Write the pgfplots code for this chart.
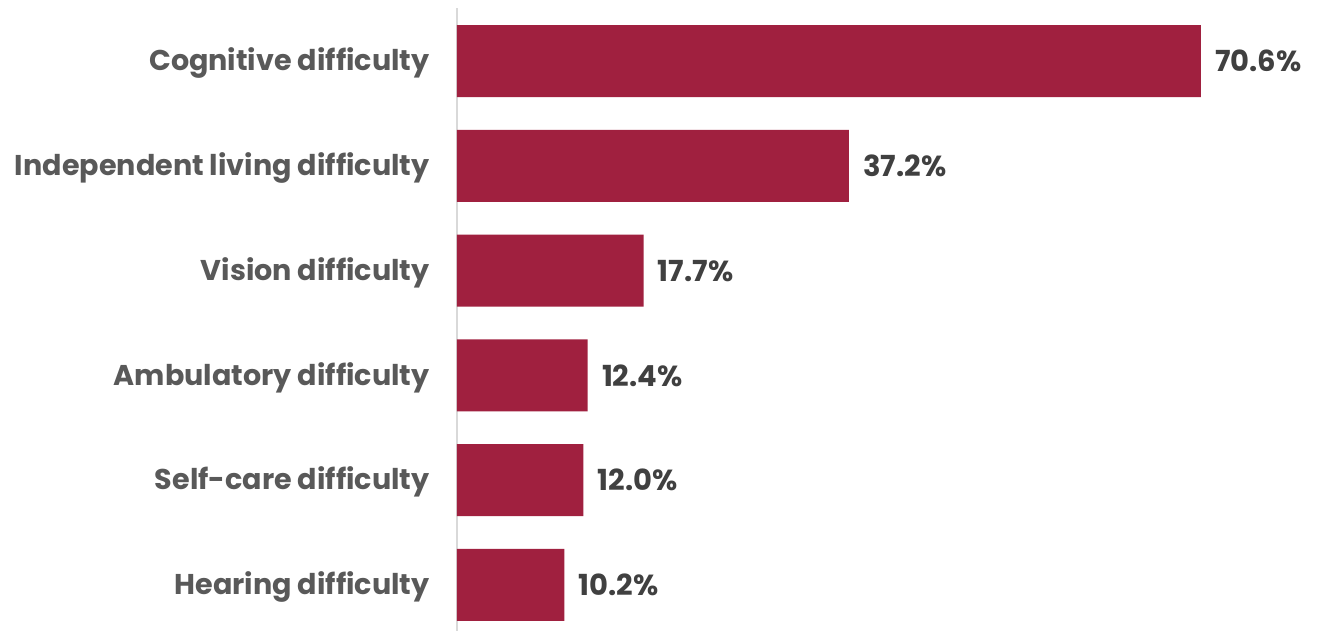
\documentclass[border=0pt]{standalone}
\usepackage{pgfplots}
\pgfplotsset{compat=1.18}
\usepackage{fontspec}
\setmainfont{Poppins}
\definecolor{barred}{HTML}{A0203F}
\definecolor{lblgray}{HTML}{595959}
\definecolor{valgray}{HTML}{404040}
\definecolor{axgray}{HTML}{D9D9D9}
\begin{document}
\begin{tikzpicture}
\path[use as bounding box] (-228.5pt,0pt) rectangle (432.5pt,315.5pt);
\begin{axis}[
  at={(0pt,0pt)}, anchor=south west,
  scale only axis, width=421.5pt, height=311.5pt,
  xbar, bar width=36pt,
  xmin=0, xmax=80,
  ymin=-0.439, ymax=5.506,
  axis x line=none,
  axis y line=left,
  axis line style={-, axgray, line width=1pt},
  ytick={0,1,2,3,4,5},
  yticklabels={Hearing difficulty, Self-care difficulty, Ambulatory difficulty, Vision difficulty, Independent living difficulty, Cognitive difficulty},
  major tick length=0pt,
  yticklabel style={font=\fontsize{14.3}{16}\selectfont\bfseries, text=lblgray, anchor=east, inner sep=0pt, xshift=-13.5pt, yshift=-1pt},
  /pgf/number format/assume math mode=true,
  nodes near coords={\pgfmathprintnumber[fixed,precision=1,zerofill,assume math mode=true]{\pgfplotspointmeta}\%},
  nodes near coords style={font=\fontsize{14.5}{16}\selectfont\bfseries, text=valgray, anchor=west, inner sep=0pt, xshift=7pt},
  clip=false,
]
\addplot[fill=barred, draw=none] coordinates {(10.2,0) (12.0,1) (12.4,2) (17.7,3) (37.2,4) (70.6,5)};
\end{axis}
\end{tikzpicture}
\end{document}
